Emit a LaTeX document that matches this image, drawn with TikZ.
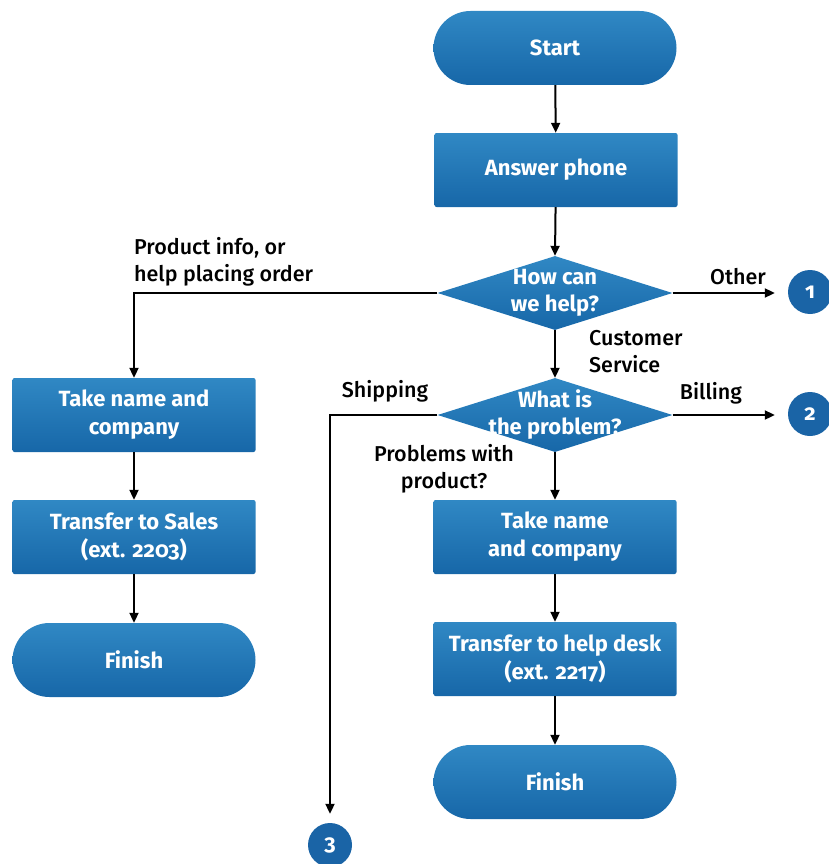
\documentclass[tikz,border=0pt]{standalone}
\usepackage{fontspec}
\setmainfont{Fira Sans}[RawFeature=+onum]
\newfontfamily\medfont{Fira Sans Medium}[RawFeature=+onum]
\usetikzlibrary{shapes.geometric,arrows.meta,calc}
\definecolor{btop}{HTML}{3088C4}
\definecolor{bbot}{HTML}{1767A8}
\definecolor{cblue}{HTML}{1A64A6}
\begin{document}
\begin{tikzpicture}[x=1pt,y=-1pt,
  boxbase/.style={top color=btop,bottom color=bbot,draw=none,text=white,
    font=\fontsize{22}{28}\selectfont\bfseries,align=center,
    minimum width=243pt,minimum height=74pt,inner sep=0pt},
  procbox/.style={boxbase,rectangle,rounded corners=2pt},
  termbox/.style={boxbase,rectangle,rounded corners=37pt},
  decbox/.style={diamond,top color=btop,bottom color=bbot,draw=none,
    minimum width=235pt,minimum height=74pt,inner sep=0pt,aspect=3.2},
  dectext/.style={text=white,font=\fontsize{22}{27}\selectfont\bfseries,align=center,inner sep=0pt},
  conn/.style={circle,fill=cblue,text=white,font=\fontsize{22}{22}\selectfont\bfseries,
    minimum size=44pt,inner sep=0pt},
  lab/.style={text=black,font=\medfont\fontsize{21.5}{27}\selectfont,inner sep=0pt},
  arr/.style={draw=black,line width=2pt,-{Triangle[length=10pt,width=9pt]}}
]
\useasboundingbox (0,0) rectangle (828,864);

\node[termbox] (start) at (555,48) {Start};
\node[procbox] (answer) at (556,170) {Answer phone};
\node[decbox] (d1) at (555,293) {};
\node[dectext] (d1t) at (d1) {How can\\we help?};
\node[decbox] (d2) at (555,415) {};
\node[dectext] (d2t) at (d2) {What is\\the problem?};

\node[conn] (c1) at (810,292) {1};
\node[conn] (c2) at (810,414) {2};
\node[conn] (c3) at (330,845) {3};

\node[procbox] (lt1) at (134,415) {Take name and\\company};
\node[procbox] (lt2) at (134,537) {Transfer to Sales\\(ext. 2203)};
\node[termbox] (lfin) at (134,660) {Finish};

\node[procbox] (rt1) at (555,537) {Take name\\and company};
\node[procbox] (rt2) at (555,659) {Transfer to help desk\\(ext. 2217)};
\node[termbox] (rfin) at (555,782) {Finish};

\draw[arr] (start) -- (answer);
\draw[arr] (answer) -- (d1.north);
\draw[arr,shorten >=13pt] (d1.east) -- (d1.east -| c1.west);
\draw[arr] (d1.west) -| (lt1.north);
\draw[arr] (d1.south) -- (d2.north);
\draw[arr,shorten >=13pt] (d2.east) -- (d2.east -| c2.west);
\draw[arr,shorten >=9pt] (d2.west) -| (c3.north);
\draw[arr] (d2.south) -- (rt1.north);
\draw[arr] (rt1) -- (rt2);
\draw[arr] (rt2) -- (rfin);
\draw[arr] (lt1) -- (lt2);
\draw[arr] (lt2) -- (lfin);

\node[lab,align=left,anchor=west] (lprod) at (134,262) {Product info, or\\help placing order};
\node[lab] (lother) at (738,277) {Other};
\node[lab,align=left,anchor=west] (lcust) at (589,352) {Customer\\Service};
\node[lab] (lbill) at (711,393) {Billing};
\node[lab] (lship) at (385,391) {Shipping};
\node[lab,align=center] (lprob) at (444,469) {Problems with\\product?};
\end{tikzpicture}
\end{document}
